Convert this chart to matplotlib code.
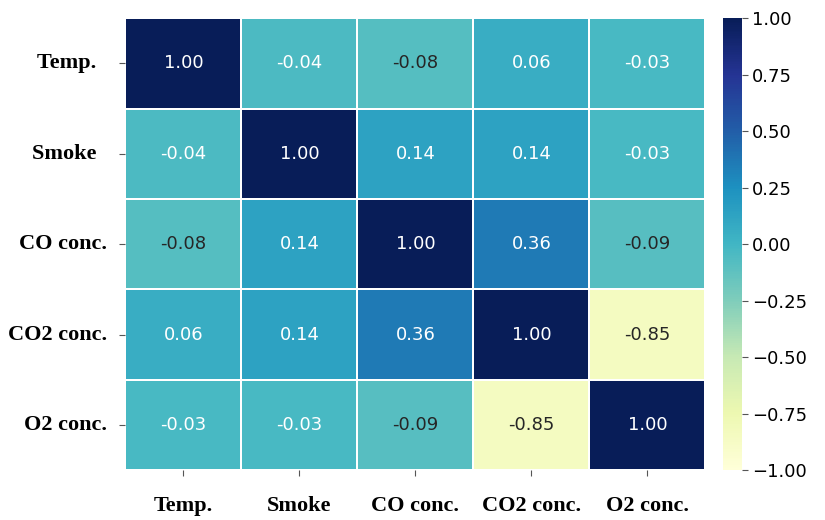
import numpy as np
import matplotlib
matplotlib.use("Agg")
import matplotlib.pyplot as plt
import seaborn as sns

labels = ["Temp.", "Smoke", "CO conc.", "CO2 conc.", "O2 conc."]
ylabels = ["Temp.  ", "Smoke  ", "CO conc.", "CO2 conc.", "O2 conc."]
corr = np.array([
    [1.00, -0.04, -0.08, 0.06, -0.03],
    [-0.04, 1.00, 0.14, 0.14, -0.03],
    [-0.08, 0.14, 1.00, 0.36, -0.09],
    [0.06, 0.14, 0.36, 1.00, -0.85],
    [-0.03, -0.03, -0.09, -0.85, 1.00],
])

fig = plt.figure(figsize=(8.25, 5.2), dpi=100)
ax = fig.add_axes([0.152, 0.096, 0.703, 0.869])
cax = fig.add_axes([0.876, 0.096, 0.023, 0.869])

sns.heatmap(corr, ax=ax, cbar_ax=cax, cmap="YlGnBu", vmin=-1, vmax=1,
            annot=True, fmt=".2f", annot_kws={"size": 13},
            linewidths=1.2, linecolor="white")

ax.set_xticklabels(labels, rotation=0, fontfamily="Liberation Serif",
                   fontweight="bold", fontsize=16)
ax.set_yticklabels(ylabels, rotation=0, fontfamily="Liberation Serif",
                   fontweight="bold", fontsize=16)
ax.tick_params(axis="x", pad=15, length=4, color="#555555")
ax.tick_params(axis="y", pad=9, length=4, color="#555555")

cax.tick_params(labelsize=13, length=4, color="#555555")
cax.set_yticks([-1, -0.75, -0.5, -0.25, 0, 0.25, 0.5, 0.75, 1])
cax.set_yticklabels(["\u22121.00", "\u22120.75", "\u22120.50", "\u22120.25",
                     "0.00", "0.25", "0.50", "0.75", "1.00"])

fig.savefig("out.png", dpi=100)
